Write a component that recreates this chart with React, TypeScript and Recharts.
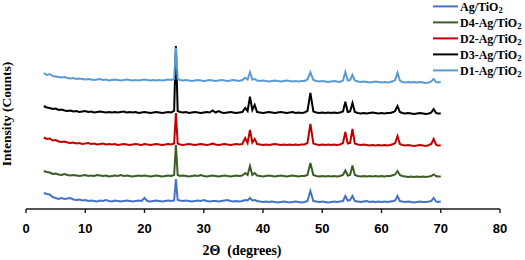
import React from 'react';
import { LineChart, Line, XAxis, YAxis } from 'recharts';

// 2θ positions (degrees)
const twoTheta = [
  3, 3.5, 4, 4.5, 5, 5.5, 6, 6.5, 7, 7.5, 8, 8.5, 9, 9.5, 10, 10.5, 11, 11.5, 12, 12.5,
  13, 13.5, 14, 14.5, 15, 15.5, 16, 16.5, 17, 17.5, 18, 18.5, 19, 19.5, 20, 20.5, 21, 21.5, 22, 22.5,
  23, 23.5, 24, 24.5,
  25, 25.3, 25.6,
  26, 26.5, 27, 27.5, 28, 28.5, 29, 29.5, 30, 30.5, 31, 31.5, 32, 32.5, 33, 33.5, 34, 34.5, 35, 35.5,
  36, 36.5,
  37, 37.4, 37.8, 38.2, 38.6, 39,
  39.5, 40, 40.5, 41, 41.5, 42, 42.5, 43, 43.5, 44, 44.5, 45, 45.5, 46, 46.5, 47, 47.5,
  48,
  48.5, 49, 49.5, 50, 50.5, 51, 51.5, 52, 52.5, 53, 53.5,
  53.9, 54.3, 54.7, 55.1, 55.5,
  56, 56.5, 57, 57.5, 58, 58.5, 59, 59.5, 60, 60.5, 61, 61.5, 62,
  62.3, 62.7, 63.1,
  63.5, 64, 64.5, 65, 65.5, 66, 66.5, 67, 67.5, 68,
  68.4, 68.8, 69.2,
  69.5, 70,
];

// Intensities (counts, stacked with offsets)
const agTiO2 = [
  16, 15, 14.5, 12, 11, 10, 11, 10, 10.5, 11, 9.5, 9, 9.5, 8.5, 9, 8, 8.5, 8, 7.5, 8.5,
  8, 9, 8, 7.5, 8.5, 8, 7.5, 8, 8.5, 8, 7.5, 8, 8.5, 8, 11, 8, 7.5, 8, 8.5, 8,
  7.5, 8, 8.5, 8,
  8.5, 30, 9,
  8.5, 8, 8.5, 8, 7.5, 8, 8.5, 8, 9, 8, 7.5, 8, 8, 7.5, 8, 8.5, 9, 8, 7.5, 8,
  7.5, 8,
  9, 8.5, 11, 8.5, 9, 8,
  7.5, 7, 7.5, 7, 7.5, 7, 6.5, 7, 7.5, 7, 6.5, 7, 7.5, 7, 6.5, 7, 8,
  18,
  8, 7.5, 7, 7.5, 7, 6.5, 7, 7.5, 7, 7.5, 8,
  13, 8.5, 9, 13, 8,
  7.5, 7, 7.5, 8, 7, 7.5, 7, 7.5, 7, 7.5, 7, 7.5, 8,
  8.5, 13, 8,
  7.5, 7, 7.5, 7, 6.5, 7, 7.5, 7, 7, 7.5,
  8, 11, 7.5,
  7, 7.5,
];

const d4AgTiO2 = [
  38, 37, 36.5, 35, 35.5, 34.5, 34, 35, 34, 33.5, 34, 33.5, 33, 33.5, 34, 33, 33.5, 33, 34, 33.5,
  33, 33.5, 32.5, 33, 33.5, 33, 34, 33, 33.5, 33, 32.5, 33, 33.5, 33, 33.5, 33, 32.5, 33, 33.5, 33,
  32.5, 33, 33.5, 33,
  34, 64, 34,
  33, 33.5, 33, 32.5, 33, 33.5, 33, 34, 33, 32.5, 33, 33.5, 33, 32.5, 33, 33.5, 33, 32.5, 33, 33.5,
  33, 33.5,
  36, 34, 43, 34, 36, 33.5,
  33, 32.5, 33, 33.5, 33, 32.5, 33, 33.5, 33, 32.5, 33, 33.5, 33, 32.5, 33, 33, 34,
  46,
  34, 33, 32.5, 33, 32.5, 33, 32.5, 33, 32.5, 33, 34,
  38.5, 33.5, 34, 43.5, 34,
  33, 32.5, 33, 32.5, 33, 32.5, 33, 32.5, 33, 32.5, 33, 33, 34,
  34.5, 38, 34,
  33, 32.5, 32, 32.5, 32, 32.5, 32, 32.5, 32, 32.5,
  33, 34.5, 33,
  32.5, 32.5,
];

const d2AgTiO2 = [
  71.5, 70, 70.5, 68.5, 69, 67.5, 67, 67.5, 66.5, 66, 66.5, 65.5, 66, 65, 65.5, 66, 65, 65.5, 64.5, 65,
  65.5, 64.5, 65, 64.5, 65, 64, 64.5, 65, 64.5, 64, 64.5, 65, 64.5, 64, 65, 64.5, 64, 64.5, 65, 64.5,
  64, 64.5, 65, 64.5,
  65.5, 96, 65.5,
  64.5, 64, 64.5, 65, 64.5, 64, 64.5, 65, 64.5, 64, 64.5, 65.5, 64.5, 64, 64.5, 65, 64.5, 64, 64.5, 65,
  64.5, 65,
  71, 66, 79, 66.5, 70, 65,
  64.5, 64, 64.5, 64, 64.5, 65, 64.5, 64, 64.5, 64, 64.5, 64, 64.5, 64, 64.5, 64.5, 66,
  85,
  65.5, 64.5, 64, 64.5, 64, 64.5, 64, 64.5, 64, 64.5, 66,
  77, 65.5, 66, 80, 65.5,
  64.5, 64, 64.5, 64, 63.5, 64, 63.5, 64, 63.5, 64, 63.5, 64, 65,
  66, 73, 65,
  64, 63.5, 64, 63.5, 63, 63.5, 64, 63.5, 63, 64,
  65, 70, 64.5,
  63.5, 63.5,
];

const d3AgTiO2 = [
  103, 101.5, 101, 100, 100.5, 99, 99.5, 98.5, 98, 98.5, 97.5, 98, 97, 97.5, 98, 97, 97.5, 96.5, 97, 97.5,
  97, 96.5, 97, 96.5, 97, 96.5, 97, 97.5, 96.5, 97, 96.5, 97, 96, 96.5, 97, 96.5, 96, 96.5, 97, 96.5,
  96, 96.5, 97, 96.5,
  98, 163, 98,
  97, 96.5, 97, 96, 96.5, 97, 96.5, 96, 96.5, 97, 96.5, 98.5, 96.5, 98, 96.5, 96, 96.5, 97, 96.5, 96,
  96.5, 97,
  101, 98, 112.3, 99, 104, 97,
  96.5, 96, 96.5, 97, 96.5, 96, 96.5, 97, 96.5, 96, 96.5, 97, 96, 96.5, 96, 96.5, 98,
  116,
  97.5, 96.5, 96, 96.5, 96, 96.5, 96, 96.5, 96, 96.5, 97.5,
  107.3, 97, 97.5, 106, 97,
  96, 95.5, 96, 95.5, 96, 96.5, 96, 95.5, 96, 95.5, 96, 96, 97,
  98, 103, 97,
  96, 95.5, 96, 95.5, 95, 95.5, 96, 95.5, 95, 95.5,
  96.5, 100, 96,
  95.5, 95.5,
];

const d1AgTiO2 = [
  136, 134, 135, 133, 132.5, 132, 131.5, 132, 131, 130.5, 131, 130, 130.5, 130, 129.5, 130, 129.5, 129, 129.5, 130,
  129, 129.5, 128.5, 129, 129.5, 129, 128.5, 129, 129.5, 129, 128.5, 129, 128.5, 129, 129.5, 129, 128.5, 129, 128.5, 129,
  128.5, 129, 129.5, 129,
  130, 161.3, 130,
  129, 128.5, 129, 128.5, 128, 128.5, 129, 128.5, 128, 128.5, 129, 128.5, 128, 128.5, 129, 128.5, 128, 128.5, 129, 128.5,
  128, 129,
  131.3, 129.5, 136.7, 129.5, 130, 128.5,
  128, 128.5, 128, 127.5, 128, 128.5, 128, 127.5, 128, 128.5, 128, 127.5, 128, 127.5, 128, 128, 129.5,
  136.7,
  129, 128, 127.5, 128, 127.5, 127, 127.5, 128, 127.5, 127, 128.5,
  137, 128.5, 129, 134, 128.5,
  127.5, 127, 127.5, 127, 126.5, 127, 127.5, 127, 126.5, 127, 126.5, 127, 128,
  129, 136.3, 128.5,
  127, 126.5, 127, 126.5, 127, 126.5, 127, 126.5, 126, 126.5,
  127.5, 130, 127,
  126.5, 127,
];

const xTicks = [0, 10, 20, 30, 40, 50, 60, 70, 80];
const seriesKeys = ['ag', 'd4', 'd2', 'd3', 'd1'];
const seriesLabels = ['Ag/TiO', 'D4-Ag/TiO', 'D2-Ag/TiO', 'D3-Ag/TiO', 'D1-Ag/TiO'];
const seriesColors = ['#4472C4', '#3B5E25', '#C00000', '#000000', '#5B9BD5'];
const seriesValues = [agTiO2, d4AgTiO2, d2AgTiO2, d3AgTiO2, d1AgTiO2];

const data = twoTheta.map((x, i) => {
  const row: Record<string, number> = { x };
  seriesKeys.forEach((k, s) => {
    row[k] = seriesValues[s][i];
  });
  return row;
});

const serif = '"Liberation Serif", "Times New Roman", serif';
const sans = '"Liberation Sans", Arial, sans-serif';

export default function App() {
  return (
    <div style={{ position: 'fixed', left: 0, top: 0, width: 525, height: 260, background: '#fff', overflow: 'hidden' }}>
      <LineChart
        width={525}
        height={260}
        data={data}
        margin={{ top: 18, right: 25, bottom: 21, left: 26 }}
      >
        <XAxis
          type="number"
          dataKey="x"
          domain={[0, 80]}
          ticks={xTicks}
          allowDataOverflow
          height={30}
          axisLine={{ stroke: '#1a1a1a', strokeWidth: 1.6 }}
          tickLine={{ stroke: '#1a1a1a', strokeWidth: 1.4 }}
          tickSize={4}
          tickMargin={11}
          tick={{ fontFamily: sans, fontWeight: 'bold', fontSize: 13, fill: '#000' }}
        />
        <YAxis
          type="number"
          domain={[0, 191]}
          width={0}
          tick={false}
          tickLine={false}
          axisLine={{ stroke: '#1a1a1a', strokeWidth: 1.8 }}
        />
        {seriesKeys.map((k, s) => (
          <Line
            key={k}
            dataKey={k}
            type="linear"
            stroke={seriesColors[s]}
            strokeWidth={2}
            dot={false}
            activeDot={false}
            isAnimationActive={false}
          />
        ))}
      </LineChart>
      <svg
        width={525}
        height={260}
        style={{ position: 'absolute', left: 0, top: 0, pointerEvents: 'none' }}
      >
        {seriesLabels.map((lab, i) => {
          const y = 6.4 + 16 * i;
          return (
            <g key={lab}>
              <line x1={433} x2={458} y1={y} y2={y} stroke={seriesColors[i]} strokeWidth={2} />
              <text x={460} y={y + 4.3} fontFamily={serif} fontWeight="bold" fontSize={12} fill="#000">
                {lab}
                <tspan fontSize={8.5} dy={2.5}>2</tspan>
              </text>
            </g>
          );
        })}
        <text
          transform="translate(11,114) rotate(-90)"
          textAnchor="middle"
          fontFamily={serif}
          fontWeight="bold"
          fontSize={13.5}
          fill="#000"
        >
          Intensity (Counts)
        </text>
        <text
          x={242}
          y={255}
          textAnchor="middle"
          fontFamily={serif}
          fontWeight="bold"
          fontSize={14}
          fill="#000"
          style={{ whiteSpace: 'pre' }}
        >
          {'2Θ  (degrees)'}
        </text>
      </svg>
    </div>
  );
}
